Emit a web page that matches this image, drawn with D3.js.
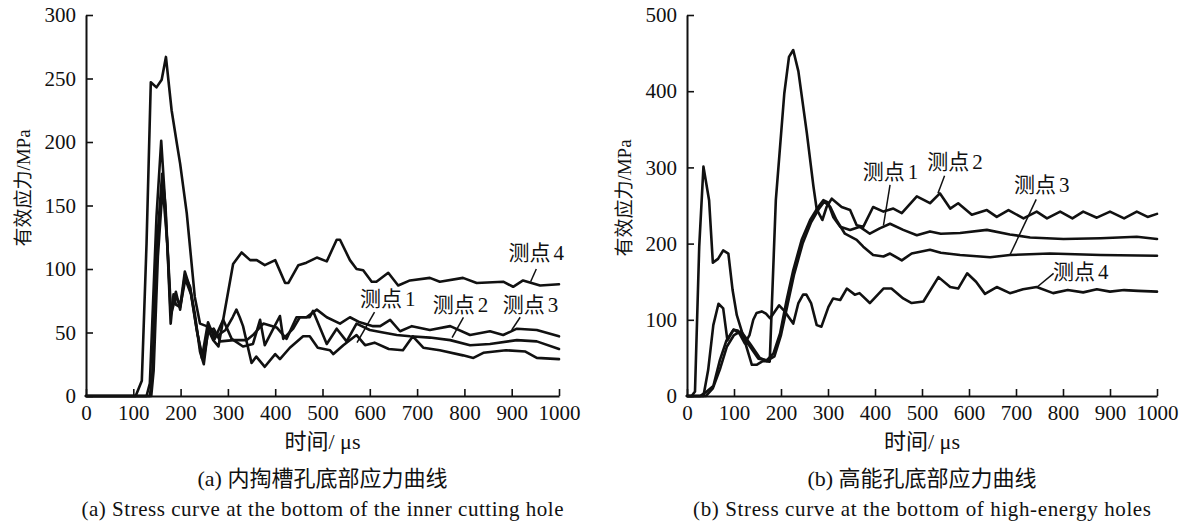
<!DOCTYPE html>
<html>
<head>
<meta charset="utf-8">
<script src="https://cdn.jsdelivr.net/npm/d3@7"></script>
<style>
body{margin:0;background:#fff;}
svg{display:block;}
text{font-family:"Liberation Serif","Noto Sans CJK SC",serif;fill:#111;}
</style>
</head>
<body>
<div id="chart"></div>
<script>
/* two stress-time panels, series as [time µs, stress MPa] */

// (a) inner cutting hole
var a_p1 = [[0,0],[128,0],[135,10],[149,141],[159,201],[166,160],[173,110],[179,57],[185,80],[190,72],[199,70],[209,98],[220,85],[230,65],[241,35],[249,25],[259,55],[276,47],[295,52],[310,62],[318,68],[325,62],[332,55],[350,26],[360,31],[378,23],[400,33],[410,29],[431,38],[459,47],[473,47],[490,38],[516,36],[523,33],[544,40],[572,48],[590,40],[610,42],[640,37],[670,36],[691,47],[713,38],[748,36],[797,32],[819,30],[840,34],[888,36],[929,35],[953,30],[1000,29]];
var a_p2 = [[0,0],[135,0],[140,15],[150,120],[161,175],[168,150],[179,65],[190,82],[199,68],[209,95],[220,86],[233,55],[245,30],[258,58],[272,45],[290,60],[308,45],[332,39],[353,41],[368,60],[378,40],[396,53],[410,63],[417,45],[438,53],[452,62],[473,62],[480,67],[509,41],[530,53],[551,43],[572,57],[600,52],[628,50],[657,48],[685,47],[727,46],[770,44],[812,40],[854,41],[911,44],[953,43],[1000,37]];
var a_p3 = [[0,0],[138,0],[143,20],[152,110],[162,165],[172,120],[180,65],[190,78],[200,72],[210,92],[222,80],[235,50],[248,28],[258,50],[270,53],[284,43],[312,44],[340,44],[353,48],[375,57],[403,54],[424,45],[445,62],[466,62],[488,68],[509,62],[537,57],[558,62],[579,58],[607,55],[622,55],[643,60],[664,51],[689,55],[727,52],[770,55],[812,48],[854,51],[882,48],[911,53],[953,52],[1000,47]];
var a_p4 = [[0,0],[105,0],[118,12],[128,120],[137,247],[149,243],[160,249],[169,267],[181,225],[192,199],[199,183],[213,144],[230,78],[241,57],[255,55],[269,44],[280,39],[290,60],[311,104],[329,113],[347,107],[361,107],[378,103],[400,107],[421,89],[428,89],[449,103],[466,105],[488,109],[509,106],[530,123],[537,123],[558,107],[572,100],[586,99],[604,90],[614,90],[639,97],[660,87],[685,91],[727,93],[748,90],[797,93],[826,89],[882,90],[903,86],[924,91],[960,87],[1000,88]];

// (b) high-energy holes
var b_p1 = [[0,0],[28,0],[40,5],[56,13],[70,47],[84,73],[99,87],[113,82],[134,65],[152,49],[170,47],[184,56],[198,82],[212,126],[226,165],[244,205],[262,231],[279,248],[290,257],[300,254],[311,235],[326,222],[347,218],[368,222],[389,213],[410,220],[432,226],[460,218],[489,211],[517,216],[540,213],[581,214],[638,218],[687,212],[730,208],[801,206],[880,207],[957,209],[1000,206]];
var b_p2 = [[0,0],[10,0],[17,6],[26,196],[35,301],[47,257],[55,175],[66,180],[77,191],[88,187],[97,139],[106,106],[120,78],[138,41],[148,41],[162,46],[176,45],[189,257],[207,397],[217,445],[226,454],[237,426],[255,345],[269,275],[276,245],[288,231],[297,248],[308,259],[329,248],[347,244],[361,224],[375,222],[396,248],[418,242],[439,246],[457,240],[489,262],[517,253],[538,266],[560,246],[577,253],[606,238],[638,244],[659,235],[684,244],[716,233],[744,242],[766,233],[794,242],[820,233],[843,242],[872,234],[900,242],[930,233],[957,242],[980,235],[1000,239]];
var b_p3 = [[0,0],[40,0],[55,10],[70,35],[85,65],[100,80],[115,85],[135,68],[155,50],[170,46],[186,52],[200,80],[214,120],[228,160],[246,200],[264,228],[280,245],[292,255],[305,248],[318,231],[336,213],[361,205],[375,196],[396,185],[418,183],[432,187],[457,178],[478,187],[517,192],[540,188],[581,185],[645,182],[687,185],[772,187],[880,185],[1000,184]];
var b_p4 = [[0,0],[35,0],[45,34],[56,93],[67,121],[77,115],[86,73],[99,87],[108,86],[123,69],[133,80],[141,100],[148,109],[159,111],[168,108],[177,102],[196,119],[208,111],[226,95],[237,122],[247,133],[254,133],[264,122],[276,93],[286,91],[301,117],[311,128],[326,126],[340,141],[357,133],[367,135],[389,122],[418,141],[435,141],[460,128],[478,122],[503,124],[535,156],[560,143],[577,141],[596,161],[615,150],[634,134],[659,143],[687,135],[715,140],[744,143],[779,135],[810,139],[843,136],[872,140],[900,137],[930,139],[960,138],[1000,137]];

var xTicks  = [0,100,200,300,400,500,600,700,800,900,1000];
var yTicksA = [0,50,100,150,200,250,300];
var yTicksB = [0,100,200,300,400,500];
var yTitle  = '有效应力/MPa';
var xTitle  = '时间/ μs';
var capsA   = ['(a) 内掏槽孔底部应力曲线','(a) Stress curve at the bottom of the inner cutting hole'];
var capsB   = ['(b) 高能孔底部应力曲线','(b) Stress curve at the bottom of high-energy holes'];

// label text, text centre, leader from -> to (in data units)
var labelsA = [
    {t:'测点1', x:638, y:77, from:[610,66], to:[573,42]},
    {t:'测点2', x:792, y:72, from:[798,62], to:[774,46]},
    {t:'测点3', x:940, y:72, from:[918,62], to:[900,52]},
    {t:'测点4', x:952, y:113, from:[952,100], to:[940,90]}
];
var labelsB = [
    {t:'测点1', x:433, y:295, from:[432,277], to:[418,224]},
    {t:'测点2', x:570, y:308, from:[548,289], to:[534,266]},
    {t:'测点3', x:755, y:278, from:[743,258], to:[687,185]},
    {t:'测点4', x:838, y:163, from:[780,161], to:[745,143]}
];

var W = 1189, H = 522;
var svg = d3.select('#chart').append('svg').attr('width',W).attr('height',H);

function panel(opt){
    var x = d3.scaleLinear().domain([0,1000]).range([opt.x0,opt.x1]);
    var y = d3.scaleLinear().domain([0,opt.ymax]).range([396,15]);
    var g = svg.append('g');

    var xa = g.append('g').attr('transform','translate(0,396)')
        .call(d3.axisBottom(x).tickValues(xTicks).tickFormat(d3.format('d')).tickSizeInner(-7).tickSizeOuter(0).tickPadding(9));
    var ya = g.append('g').attr('transform','translate('+opt.x0+',0)')
        .call(d3.axisLeft(y).tickValues(opt.yTicks).tickFormat(d3.format('d')).tickSizeInner(-7).tickSizeOuter(0).tickPadding(10));
    [xa,ya].forEach(function(a){
        a.select('.domain').attr('stroke','#111').attr('stroke-width',2);
        a.selectAll('.tick line').attr('stroke','#111').attr('stroke-width',1.6);
        a.selectAll('.tick text').attr('font-size','21px').attr('fill','#111');
    });

    var line = d3.line().x(function(d){ return x(d[0]); }).y(function(d){ return y(d[1]); });
    g.selectAll('path.curve').data(opt.series).join('path').attr('class','curve')
        .attr('d',line).attr('fill','none').attr('stroke','#111')
        .attr('stroke-width',2.6).attr('stroke-linejoin','round').attr('stroke-linecap','round');

    opt.labels.forEach(function(l){
        g.append('line').attr('x1',x(l.from[0])).attr('y1',y(l.from[1]))
            .attr('x2',x(l.to[0])).attr('y2',y(l.to[1]))
            .attr('stroke','#111').attr('stroke-width',1.5);
        var t = g.append('text').attr('x',x(l.x)).attr('y',y(l.y)).attr('dy','0.36em')
            .attr('text-anchor','middle').attr('font-size','21px');
        t.append('tspan').text(l.t.slice(0,2));
        t.append('tspan').attr('dx',3).text(l.t.slice(2));
    });

    var cx = (opt.x0+opt.x1)/2;
    g.append('text').attr('transform','translate('+opt.tx+','+opt.ty+') rotate(-90)')
        .attr('text-anchor','middle').attr('dy','0.36em').attr('font-size','19px').text(yTitle);
    g.append('text').attr('x',cx).attr('y',441).attr('dy','0.36em')
        .attr('text-anchor','middle').attr('font-size','22px').text(xTitle);
    g.append('text').attr('x',cx).attr('y',478).attr('dy','0.36em')
        .attr('text-anchor','middle').attr('font-size','22px').text(opt.caps[0]);
    g.append('text').attr('x',cx).attr('y',508).attr('dy','0.36em')
        .attr('text-anchor','middle').attr('font-size','21px')
        .attr('textLength',opt.capw).attr('lengthAdjust','spacing').text(opt.caps[1]);
}

panel({x0:86, x1:559, ymax:300, yTicks:yTicksA, series:[a_p1,a_p2,a_p3,a_p4], labels:labelsA, caps:capsA, capw:482, tx:23, ty:188});
panel({x0:687, x1:1157, ymax:500, yTicks:yTicksB, series:[b_p1,b_p2,b_p3,b_p4], labels:labelsB, caps:capsB, capw:458, tx:624, ty:198});
</script>
</body>
</html>
